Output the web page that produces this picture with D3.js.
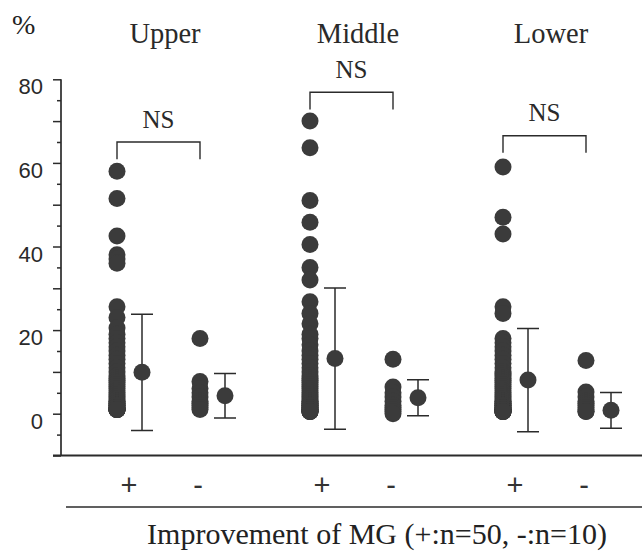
<!DOCTYPE html>
<html>
<head>
<meta charset="utf-8">
<script src="https://cdn.jsdelivr.net/npm/d3@7/dist/d3.min.js"></script>
<style>
  body { margin: 0; background: #fff; }
  svg { display: block; }
</style>
</head>
<body>
<div id="chart"></div>
<script>
// regions and improvement groups
var regions = ['Upper', 'Middle', 'Lower'];
var groups = ['+', '-'];

// individual values (%), + : n=50, - : n=10
var upperPlus = [58, 51.5, 42.5, 38, 37, 36, 25.6, 23, 20.5, 19, 18, 17, 16, 15, 14, 13, 12, 11, 10, 9,
  8.5, 8, 7.5, 7, 6.5, 6, 5.5, 5, 4.5, 4, 3.5, 3, 3, 2.5, 2.5, 2, 2, 2, 1.5, 1.5,
  1.5, 1, 1, 1, 1, 1, 1, 1, 1, 1];
var upperMinus = [18, 7.7, 6, 5, 4, 3, 2.5, 2, 1.5, 1];
var middlePlus = [70, 63.6, 51, 45.8, 40.5, 35, 32, 26.8, 24, 21.5, 19, 18, 16.5, 15, 14, 13, 12, 11, 10, 9,
  8.5, 8, 7.5, 7, 6.5, 6, 5.5, 5, 4.5, 4, 3.5, 3, 3, 2.5, 2.5, 2, 2, 2, 1.5, 1.5,
  1.5, 1, 1, 1, 1, 0.5, 0.5, 0.5, 0.5, 0.5];
var middleMinus = [13, 6.4, 5, 4, 3, 2, 1.5, 1, 0.5, 0];
var lowerPlus = [59, 47, 43, 25.6, 24, 18, 17, 16, 15, 14, 13, 12, 11, 10, 9.5, 9, 8.5, 8, 7.5, 7,
  6.5, 6, 5.5, 5, 4.5, 4, 3.5, 3, 3, 2.5, 2.5, 2, 2, 2, 1.5, 1.5, 1.5, 1, 1, 1,
  1, 1, 1, 0.5, 0.5, 0.5, 0.5, 0.5, 0.5, 0.5];
var lowerMinus = [12.7, 5.2, 4, 3, 2.5, 2, 1.5, 1, 0.5, 0.5];

// mean and SD drawn beside each column
var means = [9.9, 4.3, 13.2, 3.8, 8.05, 0.8];
var sds = [13.9, 5.3, 16.9, 4.3, 12.35, 4.3];

// y ticks
var yTicks = d3.range(-10, 81, 5);
var yLabels = [0, 20, 40, 60, 80];

// bracket heights (%) for the NS comparison in each region
var bracketTop = [65, 76.9, 66.5];

var values = [upperPlus, upperMinus, middlePlus, middleMinus, lowerPlus, lowerMinus];

var cols = [];
regions.forEach(function(r, i){
    groups.forEach(function(g, j){
        var k = i * 2 + j;
        cols.push({region: r, group: g, values: values[k], mean: means[k], sd: sds[k]});
    });
});

var width = 642, height = 551;
var ink = '#2b2b2b', dotFill = '#3b3b3b';
var r = 8.5, meanOffset = 25, capHalf = 11;
var serif = '"Liberation Serif", "Times New Roman", serif';
var sans = '"Liberation Sans", Arial, sans-serif';

var svg = d3.select('#chart').append('svg')
    .attr('width', width)
    .attr('height', height);

var y = d3.scaleLinear().domain([-10, 80]).range([455.5, 79.3]);
var x0 = d3.scaleBand().domain(regions).range([74, 653]);
var x1 = d3.scalePoint().domain(groups).range([43, 126]);

function colX(d){ return x0(d.region) + x1(d.group); }

// y axis
var yAxis = d3.axisLeft(y)
    .tickValues(yTicks)
    .tickSize(8)
    .tickPadding(10)
    .tickFormat(function(d){ return yLabels.indexOf(d) >= 0 ? d : ''; });

var gy = svg.append('g')
    .attr('transform', 'translate(61,0)')
    .call(yAxis);
gy.select('.domain').attr('stroke', ink).attr('stroke-width', 1.7).attr('d', 'M0,' + y(80) + 'V' + y(-10));
gy.selectAll('.tick line')
    .attr('stroke', ink)
    .attr('stroke-width', 1.5)
    .attr('x2', function(d){ return d % 10 === 0 ? -8 : -4; });
gy.selectAll('.tick text')
    .attr('fill', '#2a2a2a')
    .attr('dy', '0.66em')
    .style('font-family', sans)
    .style('font-size', '22px');

// x axis line
svg.append('line')
    .attr('x1', 53).attr('x2', width)
    .attr('y1', y(-10)).attr('y2', y(-10))
    .attr('stroke', ink).attr('stroke-width', 1.8);

// % unit
svg.append('text')
    .attr('x', 12).attr('y', 34)
    .attr('fill', '#222')
    .style('font-family', serif)
    .style('font-size', '28px')
    .text('%');

// region titles
svg.selectAll('.region-title')
    .data(regions)
    .enter().append('text')
    .attr('class', 'region-title')
    .attr('x', function(d){ return x0(d) + x1('+') + 48; })
    .attr('y', 42.5)
    .attr('text-anchor', 'middle')
    .attr('fill', '#2a2a2a')
    .style('font-family', serif)
    .style('font-size', '28.5px')
    .text(function(d){ return d; });

// NS brackets
var brackets = svg.selectAll('.bracket')
    .data(regions)
    .enter().append('g')
    .attr('class', 'bracket');

brackets.append('path')
    .attr('fill', 'none')
    .attr('stroke', ink)
    .attr('stroke-width', 1.4)
    .attr('d', function(d, i){
        var xa = x0(d) + x1('+'), xb = x0(d) + x1('-');
        var yt = y(bracketTop[i]), yb = y(bracketTop[i] - 4.1);
        return 'M' + xa + ',' + yb + 'V' + yt + 'H' + xb + 'V' + yb;
    });

brackets.append('text')
    .attr('x', function(d){ return x0(d) + (x1('+') + x1('-')) / 2; })
    .attr('y', function(d, i){ return y(bracketTop[i]) - 14.5; })
    .attr('text-anchor', 'middle')
    .attr('fill', '#2a2a2a')
    .style('font-family', serif)
    .style('font-size', '25px')
    .text('NS');

// individual dots
var colG = svg.selectAll('.col')
    .data(cols)
    .enter().append('g')
    .attr('class', 'col');

colG.selectAll('circle.pt')
    .data(function(d){ return d.values.map(function(v){ return {x: colX(d), v: v}; }); })
    .enter().append('circle')
    .attr('class', 'pt')
    .attr('cx', function(d){ return d.x; })
    .attr('cy', function(d){ return y(d.v); })
    .attr('r', r)
    .attr('fill', dotFill);

// mean +/- SD
colG.append('path')
    .attr('fill', 'none')
    .attr('stroke', ink)
    .attr('stroke-width', 1.5)
    .attr('d', function(d){
        var cx = colX(d) + meanOffset;
        var yt = y(d.mean + d.sd), yb = y(d.mean - d.sd);
        return 'M' + (cx - capHalf) + ',' + yt + 'H' + (cx + capHalf) +
            'M' + cx + ',' + yt + 'V' + yb +
            'M' + (cx - capHalf) + ',' + yb + 'H' + (cx + capHalf);
    });

colG.append('circle')
    .attr('cx', function(d){ return colX(d) + meanOffset; })
    .attr('cy', function(d){ return y(d.mean); })
    .attr('r', r)
    .attr('fill', dotFill);

// group labels under the axis
svg.selectAll('.grp-label')
    .data(cols)
    .enter().append('text')
    .attr('class', 'grp-label')
    .attr('x', function(d){ return colX(d) + (d.group === '+' ? 12 : -2); })
    .attr('y', 495)
    .attr('text-anchor', 'middle')
    .attr('fill', '#333')
    .style('font-family', sans)
    .style('font-size', '29px')
    .text(function(d){ return d.group; });

// separator line and axis title
svg.append('line')
    .attr('x1', 66).attr('x2', width)
    .attr('y1', 507).attr('y2', 507)
    .attr('stroke', ink).attr('stroke-width', 1.6);

svg.append('text')
    .attr('x', 377).attr('y', 544)
    .attr('text-anchor', 'middle')
    .attr('fill', '#222')
    .style('font-family', serif)
    .style('font-size', '30px')
    .text('Improvement of MG (+:n=50, -:n=10)');
</script>
</body>
</html>
